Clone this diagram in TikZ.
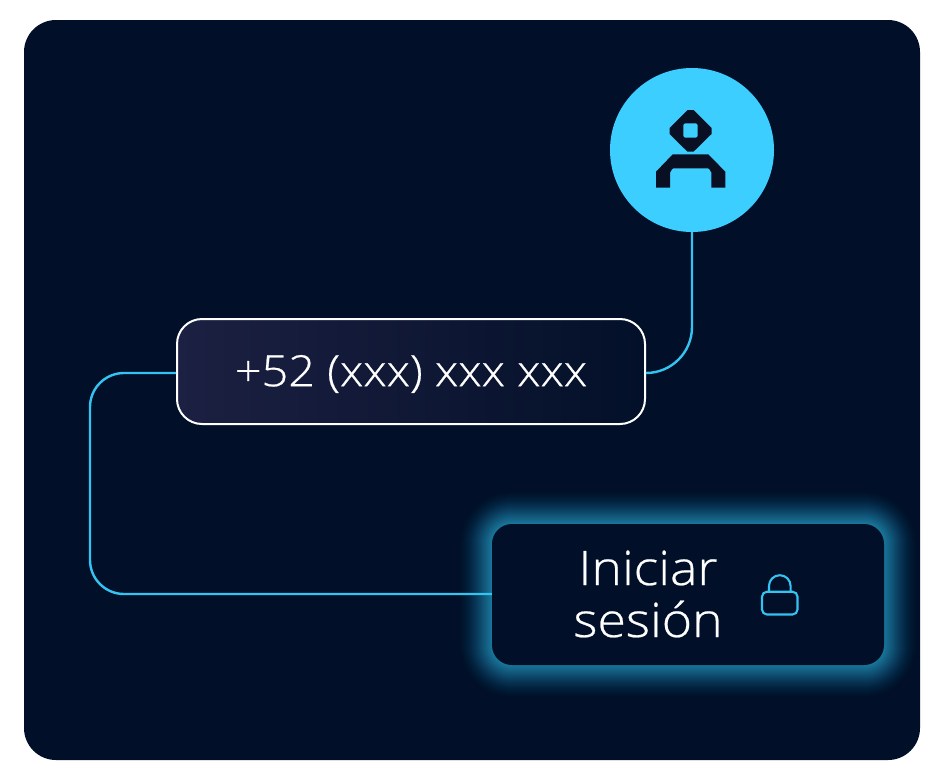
\documentclass[tikz,border=0pt]{standalone}
\usepackage{fontspec}
\setmainfont{Open Sans Light}[FakeStretch=1.09,FakeBold=0.5]
\definecolor{panelc}{HTML}{010F28}
\definecolor{cyanc}{HTML}{3CCEFF}
\definecolor{linec}{HTML}{34C4F2}
\definecolor{iconc}{HTML}{0A1024}
\definecolor{boxl}{HTML}{1C2042}
\definecolor{boxr}{HTML}{031029}
\tikzset{
  panelbox/.style={fill=panelc,rounded corners=32pt},
  wire/.style={draw=linec,line width=2.4pt},
  fieldbox/.style={draw=white,line width=2pt,rounded corners=25pt,left color=boxl,right color=boxr,
    minimum width=468pt,minimum height=105pt},
  phonefont/.style={text=white,font=\fontsize{43}{43}\selectfont,inner sep=0pt},
  loginbox/.style={fill=panelc,rounded corners=20pt,minimum width=392pt,minimum height=141pt},
  labeltext/.style={text=white,align=center,font=\fontsize{47.5}{52}\selectfont,inner sep=0pt},
}
\begin{document}
\begin{tikzpicture}[x=1pt,y=-1pt]
\useasboundingbox (0,0) rectangle (944,780);
\fill[white] (0,0) rectangle (944,780);
\fill[panelbox] (24,20) rectangle (920,760);
% glow around the login box
\foreach \i in {38,37,...,1}{
  \pgfmathsetmacro{\op}{0.045*(1-\i/39)}
  \fill[cyanc,opacity=\op,rounded corners={20pt+\i pt}] ({492-\i},{524-\i}) rectangle ({884+\i},{665+\i});
}
\node[circle,fill=cyanc,minimum size=164pt,inner sep=0pt] (avatar) at (692,150) {};
\node[fieldbox] (phone) at (411,371.5) {};
\node[phonefont] (phonetext) at (411,374) {+52 (xxx) xxx xxx};
\node[loginbox] (login) at (688,594.5) {};
\node[labeltext] (logintext) at (648,594) {Iniciar\\sesión};
% connector ends
\coordinate (phoneR) at ([yshift=-1.5pt]phone.east);
\coordinate (phoneL) at ([yshift=-1.5pt]phone.west);
\coordinate (loginL) at ([yshift=0.5pt]login.west);
\coordinate (bendA) at (90,373);
\coordinate (bendB) at (90,594);
\draw[wire,rounded corners=46pt] (avatar.south) -- (avatar.south |- phoneR) -- (phoneR);
\draw[wire,rounded corners=34pt] (phoneL) -- (bendA) -- (bendB) -- (loginL);
% user icon
\fill[iconc,even odd rule] (687.5,110) -- (693.5,110) -- (711.5,128) -- (711.5,134) -- (693.5,151.7) -- (687.5,151.7) -- (669.5,134) -- (669.5,128) -- cycle
  [rounded corners=2pt] (683.3,123.3) rectangle (697.7,137.7);
\fill[iconc] (672.7,154.3) -- (708.3,154.3) -- (725.3,171.7) -- (725.3,187.5) -- (711.3,187.5) -- (711.3,172) to[out=-90,in=0] (708,168.3) -- (673.5,168.3) to[out=180,in=-90] (670,172) -- (670,187.5) -- (656,187.5) -- (656,171.7) -- cycle;
% lock
\draw[linec,line width=2.1pt,rounded corners=5pt] (762,591.7) rectangle (797.5,614.5);
\draw[linec,line width=2.1pt] (769,591.7) -- (769,586) arc[start angle=180,end angle=0,radius=10.8pt] -- (790.6,591.7);
\end{tikzpicture}
\end{document}
